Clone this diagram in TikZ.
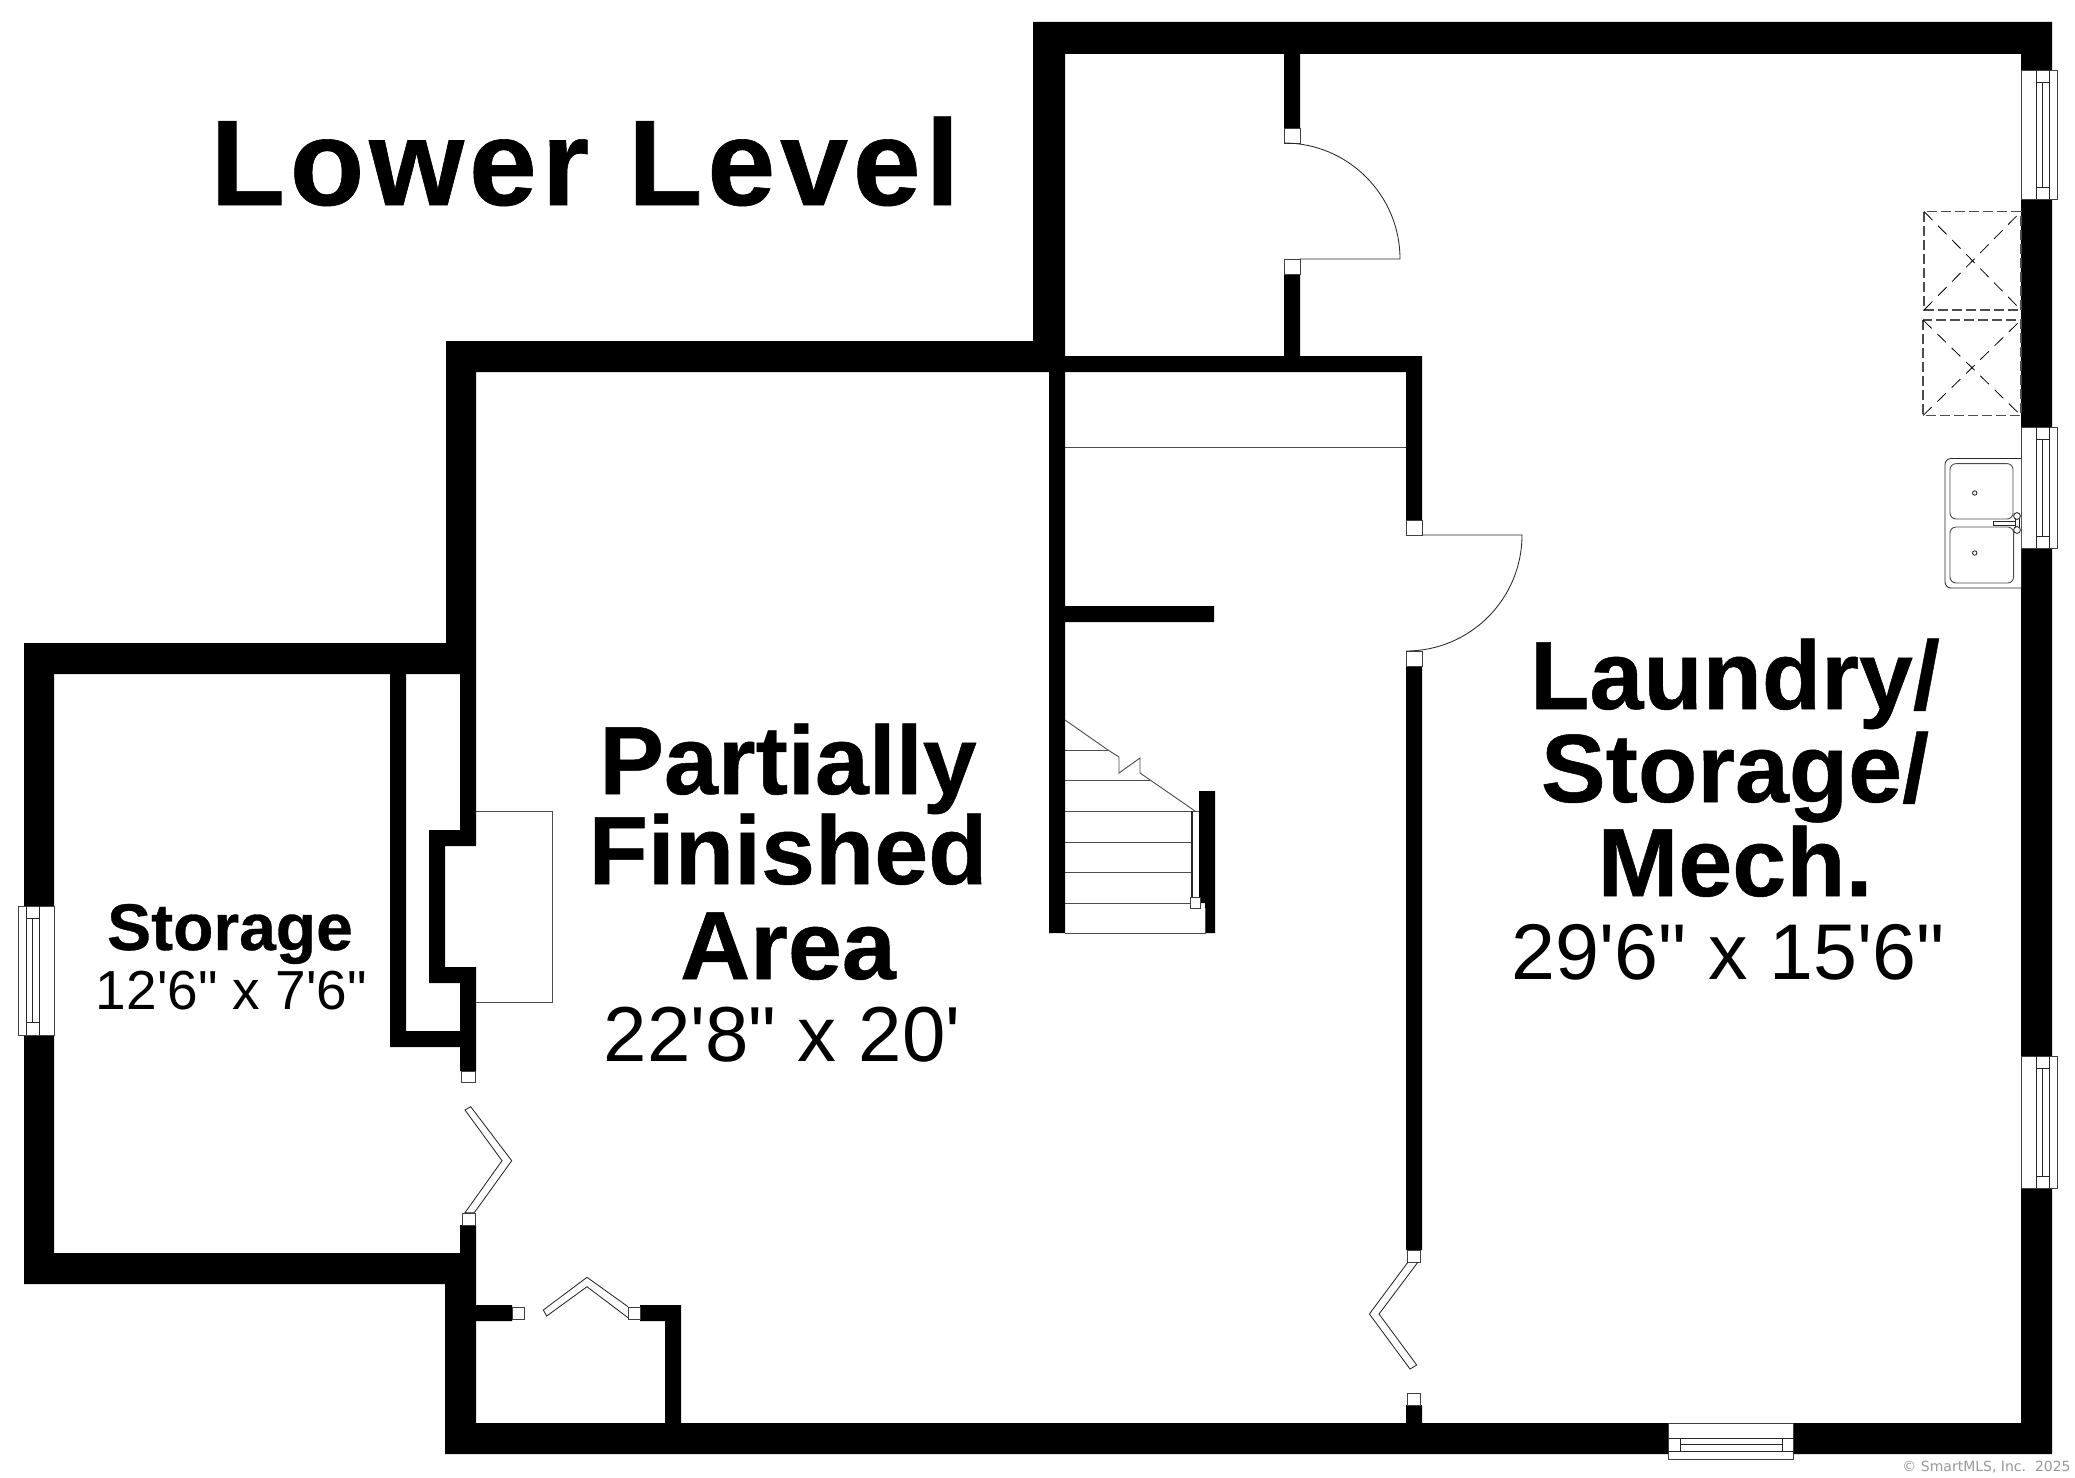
\documentclass[tikz,border=0pt]{standalone}
\usepackage{fontspec}
\setmainfont{Liberation Sans}[Ligatures=TeXOff,BoldFeatures={FakeBold=0.5}]
\newfontfamily\markfont{DejaVu Sans}
\newcommand{\px}[1]{\fontsize{#1}{#1}\selectfont}
\definecolor{linegrey}{gray}{0.3}
\definecolor{markgrey}{gray}{0.6}
\tikzset{
  wall/.style={fill=black,draw=none},
  thin/.style={draw=black!85,line width=0.42pt,line join=miter},
  faint/.style={draw=linegrey,line width=0.45pt},
  opening/.style={fill=white,draw=black!75,line width=0.42pt},
  ventedge/.style={draw=linegrey,line width=0.6pt,dash pattern=on 5pt off 2pt},
  ventcross/.style={draw=black,line width=0.4pt,dash pattern=on 6pt off 4pt},
  heading/.style={anchor=base,font=\bfseries\px{61}\addfontfeature{LetterSpace=4}},
  roomname/.style={anchor=base,font=\bfseries\px{48.5}},
  roomsize/.style={anchor=base,font=\px{39}},
}
\begin{document}
\begin{tikzpicture}[x=0.5pt,y=-0.5pt]
\useasboundingbox (0,0) rectangle (2075,1477);
\fill[white] (0,0) rectangle (2075,1477);

% walls
\fill[wall]
  (1033,22) rectangle (2052,54)
  (2021,22) rectangle (2052,1454)
  (1033,22) rectangle (1065,372)
  (446,341) rectangle (1065,372)
  (1049,341) rectangle (1065,933)
  (1065,356) rectangle (1422,372)
  (446,341) rectangle (476,674)
  (24,643) rectangle (476,674)
  (24,643) rectangle (54,1284)
  (24,1253) rectangle (476,1284)
  (445,1253) rectangle (476,1454)
  (445,1423) rectangle (2052,1454)
  (460,674) rectangle (476,846)
  (460,967) rectangle (476,1071)
  (460,1225) rectangle (476,1253)
  (390,674) rectangle (406,1047)
  (390,1031) rectangle (476,1047)
  (429,830) rectangle (476,846)
  (429,830) rectangle (445,983)
  (429,967) rectangle (476,983)
  (476,1305) rectangle (512,1321)
  (640,1305) rectangle (681,1321)
  (665,1305) rectangle (681,1423)
  (1284,54) rectangle (1300,128)
  (1284,274) rectangle (1300,356)
  (1406,356) rectangle (1422,520)
  (1406,666) rectangle (1422,1250)
  (1406,1405) rectangle (1422,1423)
  (1065,606) rectangle (1214,622)
  (1199,791) rectangle (1215,903)
  (1205,903) rectangle (1215,933);

% wall-end jambs
\draw[opening] (461,1071) rectangle (475,1082);
\draw[opening] (462,1213) rectangle (475,1225);
\draw[opening] (512,1307) rectangle (524,1319);
\draw[opening] (628,1307) rectangle (640,1319);
\draw[opening] (1284,128) rectangle (1300,143);
\draw[opening] (1284,259) rectangle (1300,274);
\draw[opening] (1406,520) rectangle (1422,535);
\draw[opening] (1406,651) rectangle (1422,666);
\draw[opening] (1407,1250) rectangle (1420,1262);
\draw[opening] (1407,1393) rectangle (1420,1405);

% swing doors
\draw[thin] (1300,259) -- (1400,259) arc[start angle=0,end angle=-90,radius=116];
\draw[thin] (1422,535) -- (1522,535) arc[start angle=0,end angle=90,radius=116];

% bifold doors
\draw[thin] (465,1110) -- (470.7,1106.7) -- (511.7,1160.7) -- (474.3,1212.7) -- (465,1212.7) -- (502,1160.7) -- cycle;
\draw[thin] (628,1306.7) -- (587,1277.3) -- (543.3,1310) -- (546.7,1316) -- (587,1286.7) -- (628,1317.7);
\draw[thin] (1408,1262) -- (1369.4,1314) -- (1410,1369) -- (1416.7,1365) -- (1379,1314) -- (1418,1262);

% chimney outline and header line
\draw[faint] (476,811) -- (552,811) -- (552,1002) -- (476,1002);
\draw[faint] (1065,447) -- (1406,447);

% stairs
\draw[faint] (1065,720) -- (1108,750) -- (1119,757) -- (1119,773) -- (1140,758) -- (1140,773) -- (1195,811);
\draw[faint] (1065,750) -- (1108,750);
\draw[faint] (1065,780) -- (1150,780);
\draw[faint] (1065,811) -- (1199,811);
\draw[faint] (1065,842) -- (1191,842);
\draw[faint] (1065,872) -- (1191,872);
\draw[faint] (1065,903) -- (1191,903);
\draw[faint] (1065,933) -- (1205,933) -- (1205,908);
\draw[thin,line width=0.7pt] (1192,811) -- (1192,897);
\draw[opening] (1190,897) rectangle (1200,908);

% windows
\foreach \ya/\yb/\yc/\yd in {70/82/187/199, 427/439/536/548, 1056/1068/1176/1188}{
  \draw[opening] (2021,\ya) rectangle (2057,\yd);
  \draw[thin] (2036,\ya) -- (2036,\yd) (2049,\ya) -- (2049,\yd);
  \draw[thin] (2036,\yb) -- (2049,\yb) (2036,\yc) -- (2049,\yc);
  \draw[thin] (2042,\yb) -- (2042,\yc);
}
\draw[opening] (18.3,906) rectangle (54,1035);
\draw[thin] (26.7,906) -- (26.7,1035) (39.3,906) -- (39.3,1035);
\draw[thin] (26.7,918) -- (39.3,918) (26.7,1022) -- (39.3,1022);
\draw[thin] (32.7,918) -- (32.7,1022);
\draw[opening] (1668.5,1423) rectangle (1793.5,1459);
\draw[thin] (1668.5,1438) -- (1793.5,1438) (1668.5,1451) -- (1793.5,1451);
\draw[thin] (1680.5,1438) -- (1680.5,1451) (1782,1438) -- (1782,1451);
\draw[thin] (1680.5,1444) -- (1782,1444);

% vents
\draw[ventedge] (1924,211.5) rectangle (2021,310);
\draw[ventcross] (1924,211.5) -- (2021,310);
\draw[ventcross] (1924,310) -- (2021,211.5);
\draw[ventedge] (1923,320) rectangle (2021,415.5);
\draw[ventcross] (1923,320) -- (2021,415.5);
\draw[ventcross] (1923,415.5) -- (2021,320);

% sink
\draw[thin,rounded corners=3pt,fill=white] (2021,458.5) -- (1945,458.5) -- (1945,588) -- (2021,588);
\draw[faint,rounded corners=3pt] (1950,463.6) rectangle (2013,519);
\draw[faint,rounded corners=3pt] (1950,527) rectangle (2013.6,583);
\draw[thin] (1974.7,493) circle[radius=1.1pt];
\draw[thin] (1974.7,553) circle[radius=1.1pt];
\draw[thin,fill=white] (1993,521) rectangle (2015,525.7);
\draw[thin,fill=white] (2015,516) rectangle (2019,530);
\draw[thin,fill=white] (2017,516) circle[radius=1.7pt];
\draw[thin,fill=white] (2017,530) circle[radius=1.7pt];

% labels
\node[heading] (title) at (585,205) {Lower Level};
\node[roomname] (pfa1) at (788,794) {Partially};
\node[roomname] (pfa2) at (788,884) {Finished};
\node[roomname] (pfa3) at (788,979) {Area};
\node[roomsize] (pfa4) at (782,1061) {22'8" x 20'};
\node[roomname,font=\bfseries\px{33}] (st1) at (230,950) {Storage};
\node[roomsize,font=\px{27.5}] (st2) at (231.5,1009.5) {12'6" x 7'6"};
\node[roomname] (ls1) at (1735,709) {Laundry/};
\node[roomname] (ls2) at (1735,802) {Storage/};
\node[roomname] (ls3) at (1735,896) {Mech.};
\node[roomsize,font=\px{39.5}] (ls4) at (1728,979) {29'6" x 15'6"};
\node[anchor=base east,inner sep=0pt,text=markgrey,font=\markfont\px{7}] (mark) at (2071,1471) {© SmartMLS, Inc.~~2025};
\end{tikzpicture}
\end{document}
